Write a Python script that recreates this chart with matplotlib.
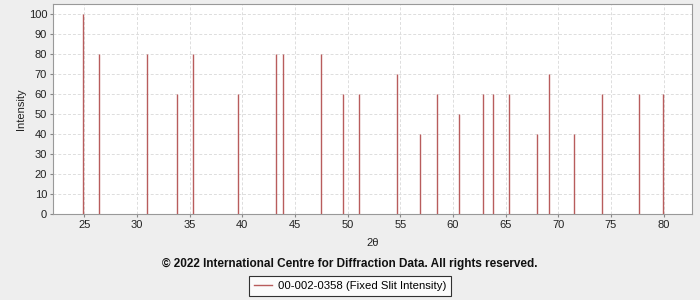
import matplotlib
matplotlib.use("Agg")
import matplotlib.pyplot as plt
from matplotlib.lines import Line2D

two_theta = [24.87, 26.39, 30.92, 33.77, 35.28, 39.56, 43.17, 43.83, 47.44, 49.60,
             51.05, 54.66, 56.85, 58.49, 60.55, 62.86, 63.81, 65.30, 67.99, 69.10,
             71.47, 74.13, 77.64, 79.92]
intensity = [100, 80, 80, 60, 80, 60, 80, 80, 80, 60,
             60, 70, 40, 60, 50, 60, 60, 60, 40, 70,
             40, 60, 60, 60]
x_ticks = [25, 30, 35, 40, 45, 50, 55, 60, 65, 70, 75, 80]
y_ticks = [0, 10, 20, 30, 40, 50, 60, 70, 80, 90, 100]
series_name = "00-002-0358 (Fixed Slit Intensity)"
copyright_text = "\u00a9 2022 International Centre for Diffraction Data. All rights reserved."

plt.rcParams['font.family'] = ['Liberation Sans', 'DejaVu Sans']
line_color = '#b85c5c'

fig = plt.figure(figsize=(7, 3), dpi=100, facecolor='#eeeeee')
ax = fig.add_axes([0.0753, 0.2867, 0.9133, 0.70])
ax.set_facecolor('white')

ax.vlines(two_theta, 0, intensity, colors=line_color, linewidth=1.0, zorder=3)

ax.set_xlim(22.0, 82.7)
ax.set_ylim(0, 105)
ax.set_xticks(x_ticks)
ax.set_yticks(y_ticks)
ax.tick_params(axis='both', labelsize=8, length=2, color='#888888', pad=2, labelcolor='#222222')
ax.grid(True, color='#dddddd', linestyle=(0, (3, 2)), linewidth=0.7, zorder=0)
for s in ax.spines.values():
    s.set_color('#999999')
    s.set_linewidth(0.8)

ax.set_xlabel('2\u03b8', fontsize=8, labelpad=6, color='#222222')
ax.set_ylabel('Intensity', fontsize=8, labelpad=2, color='#222222')

fig.text(0.5, (300 - 264) / 300, copyright_text, ha='center', va='center',
         fontsize=8.5, fontweight='bold', color='#111111')

handle = Line2D([], [], color=line_color, linewidth=1.0)
leg = fig.legend([handle], [series_name], loc='center', bbox_to_anchor=(0.5, (300 - 286) / 300),
                 fontsize=8.2, frameon=True, fancybox=False, edgecolor='black',
                 handlelength=1.6, handletextpad=0.5, borderpad=0.45, borderaxespad=0)
leg.get_frame().set_linewidth(0.8)
leg.get_frame().set_facecolor('white')

fig.savefig('out.png', dpi=100, facecolor=fig.get_facecolor())
